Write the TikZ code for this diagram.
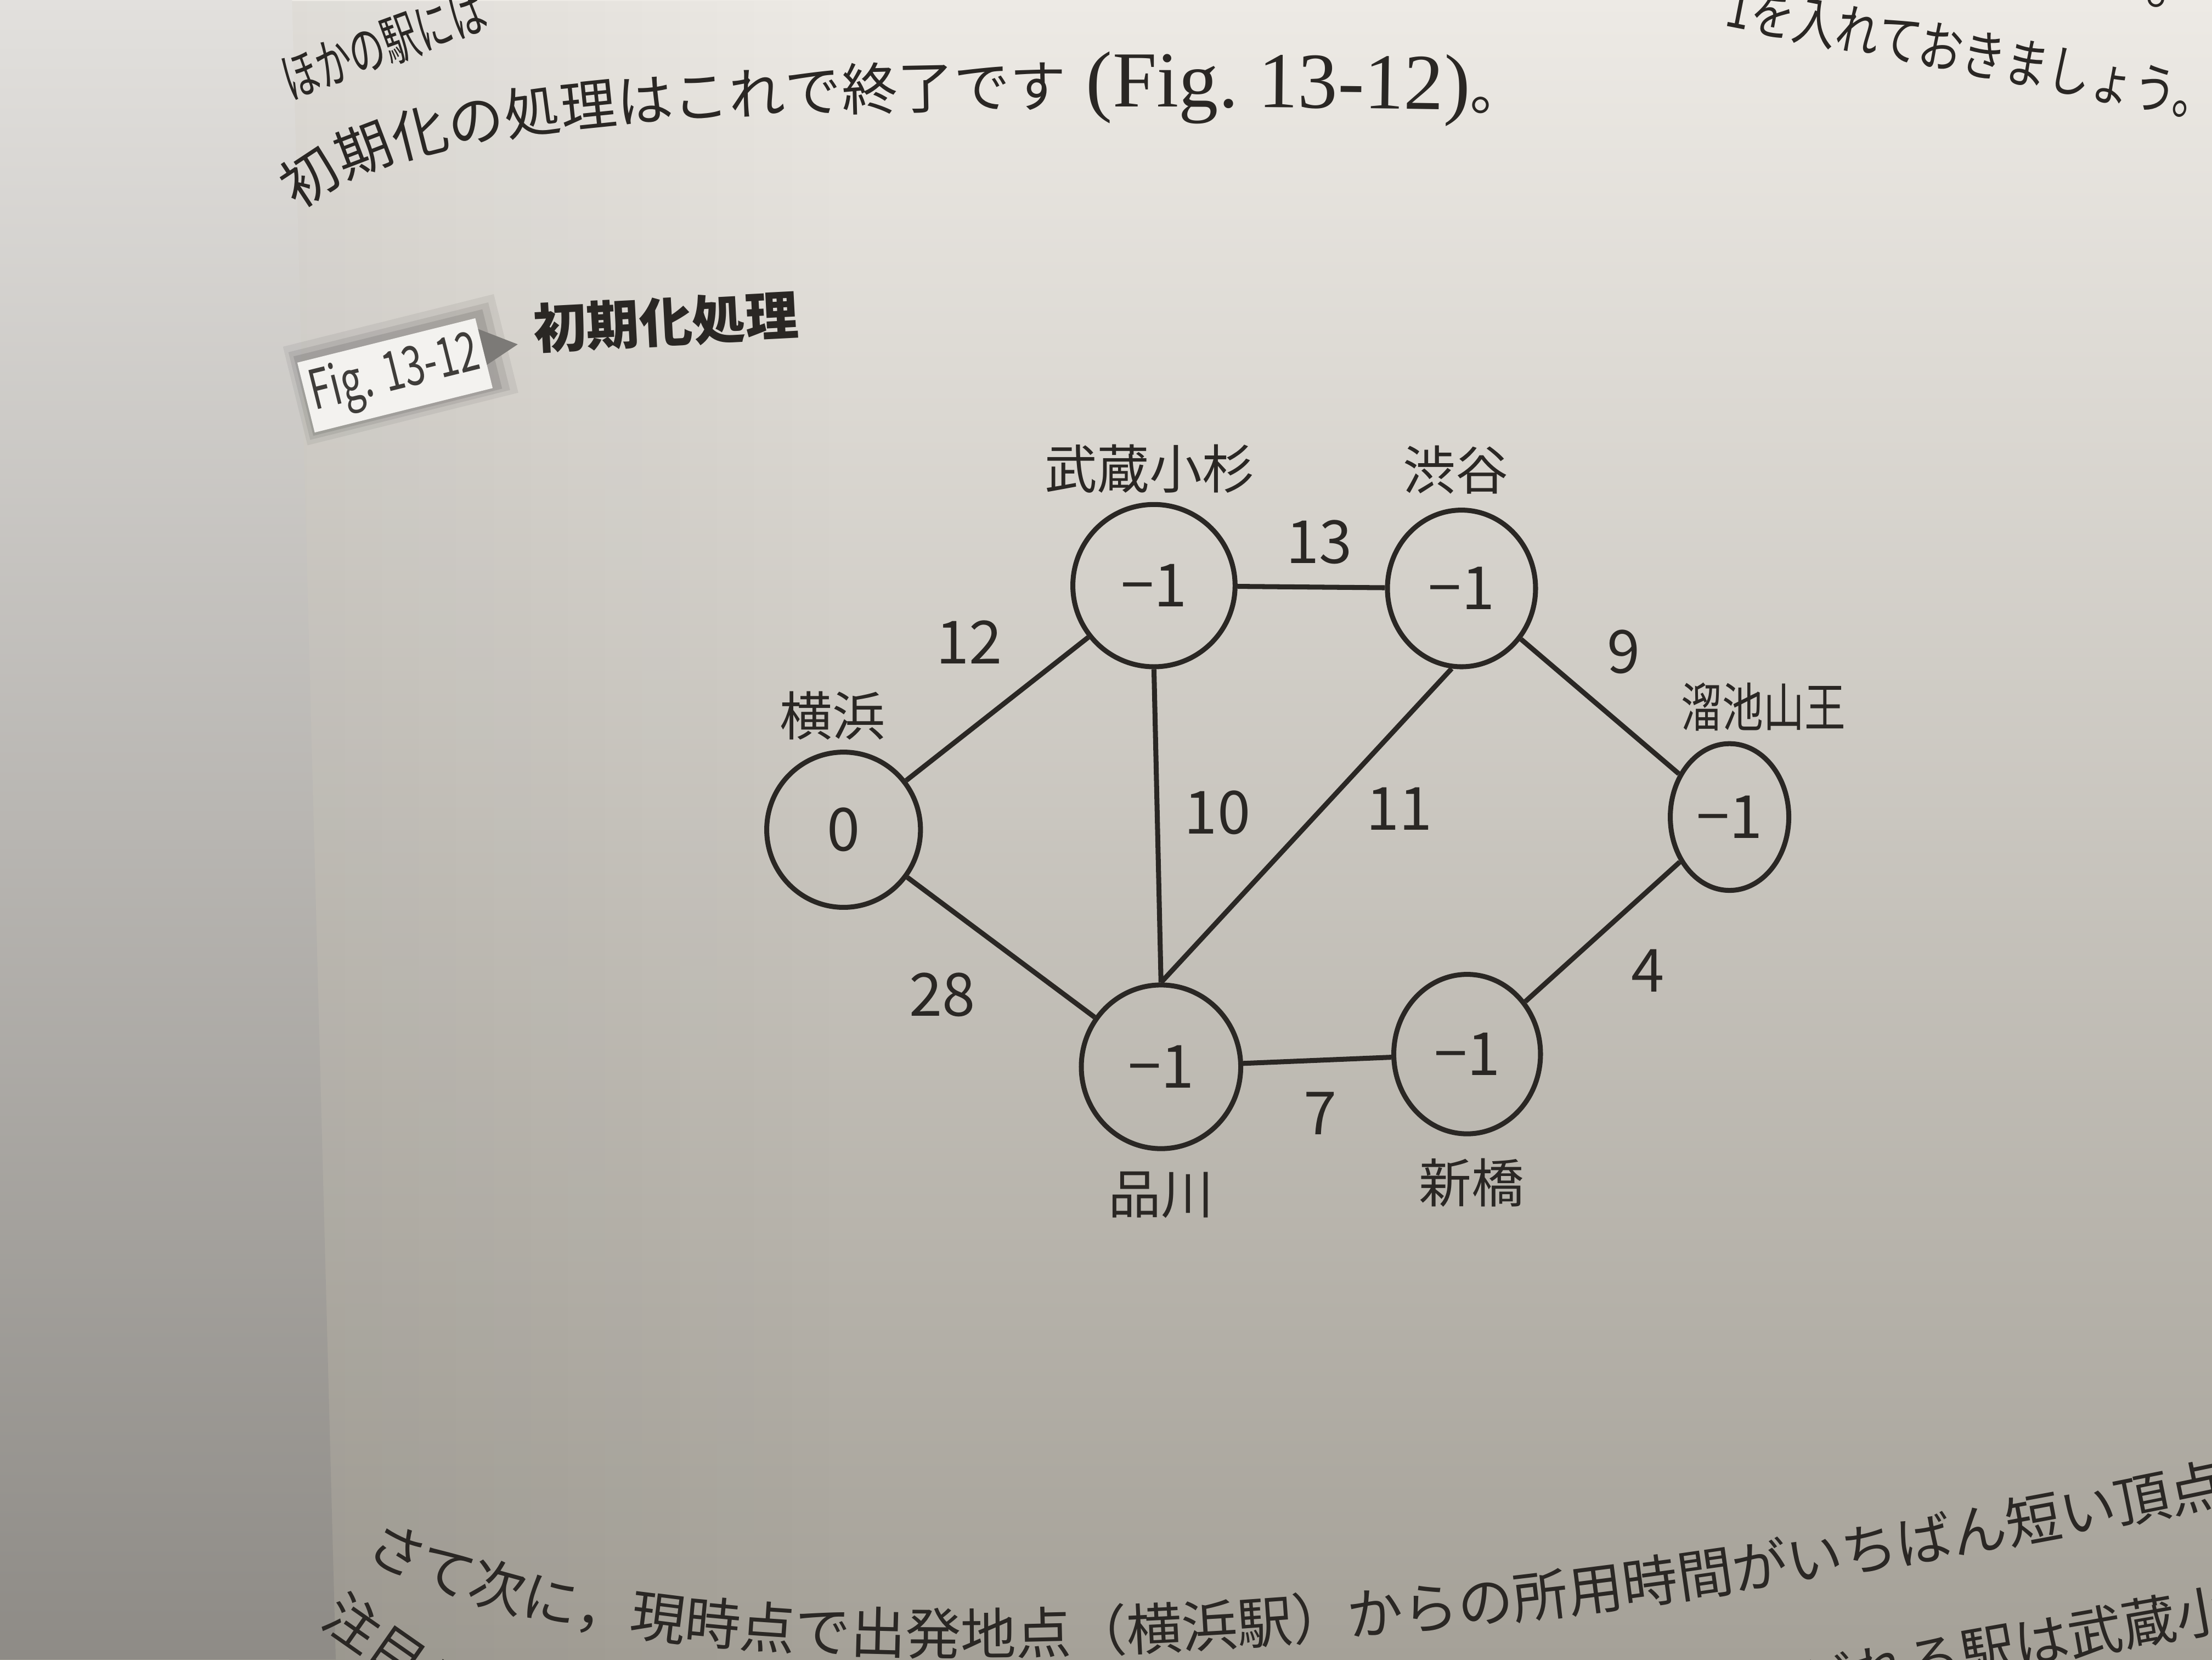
\documentclass[tikz,border=0pt]{standalone}
\usepackage{fontspec}
\usepackage{graphicx}
\setmainfont{Liberation Serif}
\newfontfamily\jp{Noto Sans CJK JP}
\usetikzlibrary{shapes.geometric,decorations.text,fadings}
\definecolor{pgtop}{HTML}{EDEAE5}
\definecolor{pgmid}{HTML}{D5D1CA}
\definecolor{pgbot}{HTML}{A5A198}
\definecolor{lftop}{HTML}{E2E0DD}
\definecolor{lfbot}{HTML}{8E8B86}
\definecolor{ink}{HTML}{2A2724}
\definecolor{boxw}{HTML}{F3F2EF}
\definecolor{tri}{HTML}{7C7A77}
\tikzfading[name=faderight, left color=transparent!0, right color=transparent!100]
\begin{document}
\begin{tikzpicture}[x=0.1mm,y=-0.1mm,
  stn/.style={ellipse, draw=ink, line width=1pt, inner sep=0pt, text=ink,
    font=\jp\fontsize{12}{12}\selectfont},
  stnname/.style={text=ink, inner sep=0pt, font=\jp\fontsize{10.6}{10.6}\selectfont},
  wlbl/.style={text=ink, inner sep=0pt, font=\jp\fontsize{12}{12}\selectfont},
  edge/.style={draw=ink, line width=1pt},
  body/.style={text=ink, inner sep=0pt, font=\jp\fontsize{11}{11}\selectfont},
  shad/.style={fill=black, inner sep=0pt, rotate=14}]
\useasboundingbox (0,0) rectangle (1568,1176);
\clip (0,0) rectangle (1568,1176);
% paper
\shade[top color=pgtop, middle color=pgmid, bottom color=pgbot] (0,0) rectangle (1568,1176);
\fill[black, opacity=0.06, path fading=faderight] (205,0) rectangle (600,1176);
\shade[top color=lftop, bottom color=lfbot] (0,0) -- (207,0) -- (238,1176) -- (0,1176) -- cycle;

% body text
\node[body, rotate=20] (t0a) at (272,32) {\scalebox{0.65}[1]{ほかの駅には}};
\node[body, rotate=-11] (t0b) at (1398,38) {\scalebox{0.8}[1]{1を入れておきましょう。}};
\node[body, rotate=-11] (t0c) at (1506,-16) {ます。};
\path[decorate, decoration={text along path, text color=ink, text align=left,
  text={|\jp\fontsize{11.3}{11.3}\selectfont|初期化の処理はこれで終了です|\rmfamily\fontsize{16}{16}\selectfont| (Fig. 13-12)|\jp\fontsize{11}{11}\selectfont|。}}]
  (212,150) .. controls (280,85) and (500,66) .. (1150,80);
\path[decorate, decoration={text along path, text color=ink, text align=left,
  text={|\jp\fontsize{11.2}{11.2}\selectfont|さて次に，現時点で出発地点（横浜駅）からの所用時間がいちばん短い頂点}}]
  (258,1102) .. controls (440,1212) and (1000,1190) .. (1610,1058);
\node[body, rotate=10] (t9a) at (1428,1166) {どれる駅は武蔵小};
\node[body, rotate=-35] (t9b) at (282,1172) {注目し};

% caption
\node[shad, opacity=0.06, minimum width=15.4mm, minimum height=7.2mm] (sh1) at (284,262) {};
\node[shad, opacity=0.08, minimum width=14.6mm, minimum height=6.4mm] (sh2) at (283,263) {};
\node[shad, opacity=0.10, minimum width=13.8mm, minimum height=5.8mm] (sh3) at (282,264) {};
\fill[tri] (336,232) -- (367,244) -- (337,264) -- cycle;
\node[fill=boxw, inner sep=0pt, rotate=14, minimum width=13mm, minimum height=5.1mm] (figbox) at (280,266) {};
\node[rotate=14, text=ink!90, inner sep=0pt, font=\jp\fontsize{11}{11}\selectfont] (figtxt) at (figbox.center) {\scalebox{0.7}[1]{Fig. 13-12}};
\node[rotate=3, text=ink, inner sep=0pt, font=\jp\bfseries\fontsize{10.7}{10.7}\selectfont] (captxt) at (472,228) {初期化処理};

% stations
\node[stn, minimum width=10.9mm, minimum height=11mm] (yoko) at (598,588) {0};
\node[stn, minimum width=11.5mm, minimum height=11.5mm] (musa) at (818,415) {−1};
\node[stn, minimum width=10.5mm, minimum height=11.1mm] (shib) at (1036,417) {−1};
\node[stn, minimum width=8.4mm, minimum height=10.4mm] (tame) at (1226,579) {−1};
\node[stn, minimum width=11.3mm, minimum height=11.6mm] (shin) at (823,756) {−1};
\node[stn, minimum width=10.4mm, minimum height=11.3mm] (shim) at (1040,747) {−1};

\node[stnname] (n1) at (590,507) {横浜};
\node[stnname] (n2) at (815,332) {武蔵小杉};
\node[stnname] (n3) at (1032,333) {渋谷};
\node[stnname] (n4) at (1250,501) {\scalebox{0.78}[1]{溜池山王}};
\node[stnname] (n5) at (823,847) {品川};
\node[stnname] (n6) at (1043,838) {新橋};

% edges
\draw[edge] (yoko) -- (musa);
\draw[edge] (yoko) -- (shin);
\draw[edge] (musa) -- (shib);
\draw[edge] (musa.south) -- (shin.north);
\draw[edge] (shib.263) -- (shin.north);
\draw[edge] (shib) -- (tame);
\draw[edge] (tame) -- (shim);
\draw[edge] (shin) -- (shim);

% weights
\node[wlbl] (w12) at (687,455) {12};
\node[wlbl] (w13) at (935,384) {13};
\node[wlbl] (w9) at (1151,462) {9};
\node[wlbl] (w10) at (863,576) {10};
\node[wlbl] (w11) at (992,573) {11};
\node[wlbl] (w28) at (668,705) {28};
\node[wlbl] (w7) at (936,789) {7};
\node[wlbl] (w4) at (1168,688) {4};
\end{tikzpicture}
\end{document}
